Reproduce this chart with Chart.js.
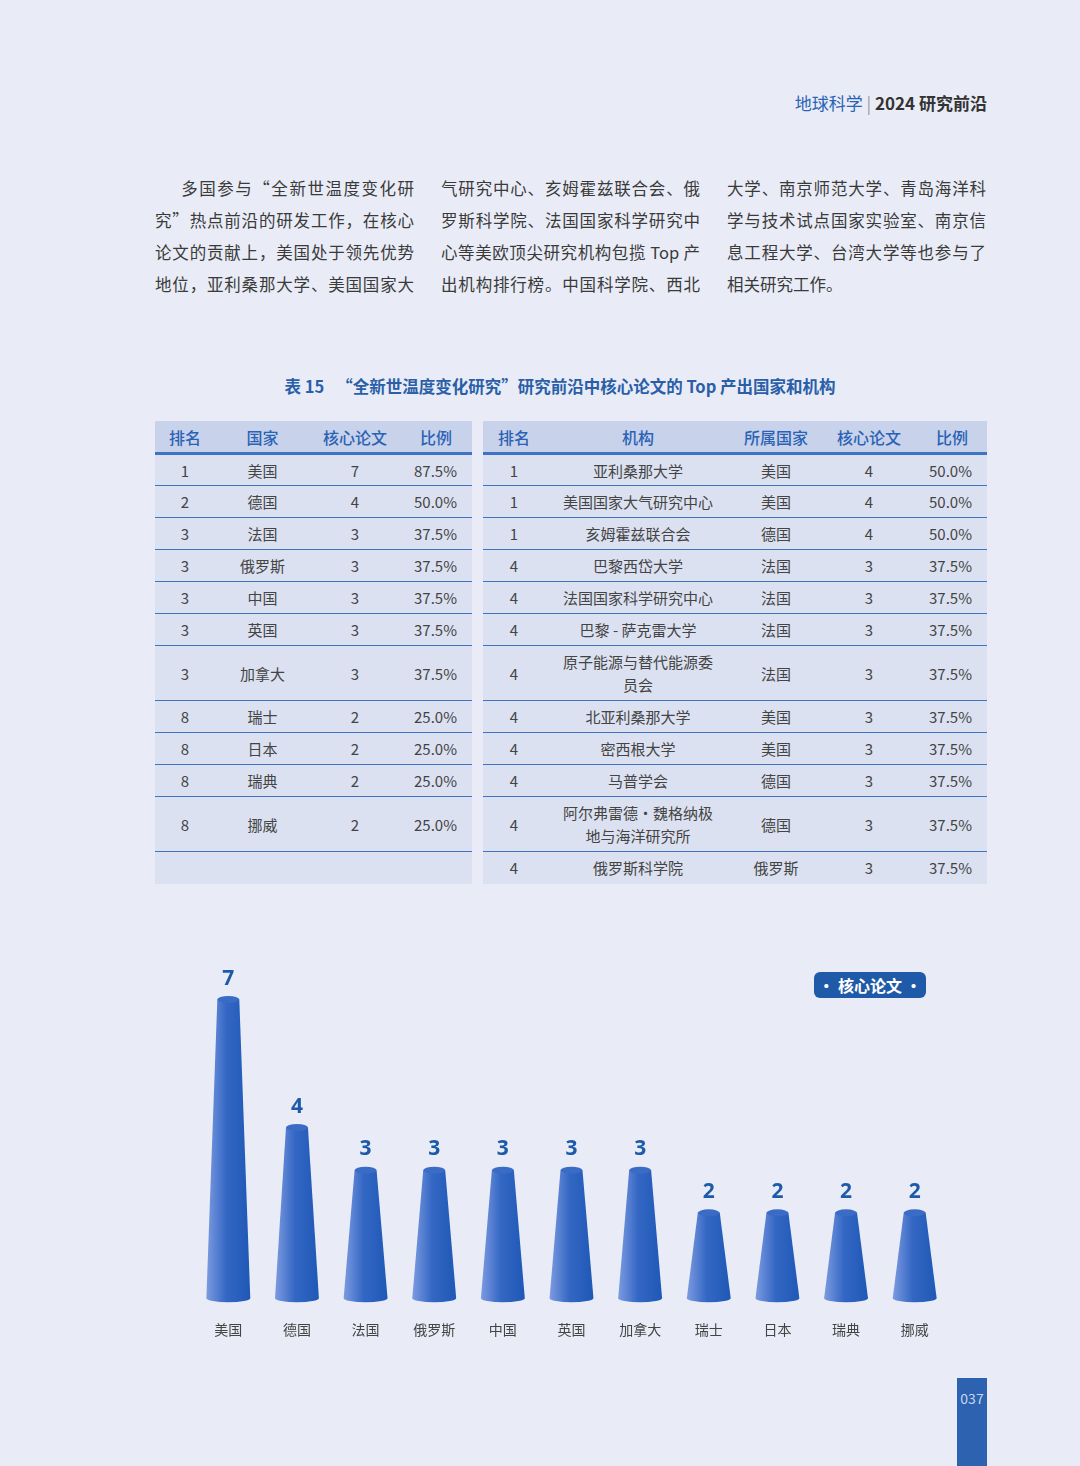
<!DOCTYPE html>
<html><head><meta charset="utf-8">
<script src="https://cdn.jsdelivr.net/npm/chart.js@4"></script>
<style>
body{margin:0;width:1080px;height:1466px;background:#e9ecf6;font-family:"Noto Sans CJK SC","Noto Sans",sans-serif;position:relative;overflow:hidden;color:#333}
.hdr{position:absolute;right:93px;top:90px;font-size:17px}
.hdr .a{color:#2a63b5}.hdr .b{color:#333;font-weight:bold}
.col{position:absolute;top:174px;width:259px;font-size:16.5px;color:#3a3a3a}
.col div{height:32px;line-height:28px;text-align:justify;text-align-last:justify;white-space:nowrap}
.col div.l{text-align-last:left}
.ttl{position:absolute;top:374px;left:20px;width:1080px;text-align:center;color:#2a5fa8;font-weight:bold;font-size:16.5px}
table{position:absolute;left:155px;top:421px;border-collapse:collapse;font-size:15px;color:#444}
td,th{text-align:center;padding:0;background:#dbe1f1;border-bottom:1.5px solid #3f74c4}
th{background:#c8d2ea;color:#2a63b5;font-weight:500;font-size:16px;height:31px;border-bottom:3px solid #3f74c4}
td.g,th.g{background:#e9ecf6;border:none;width:11px}
tr{height:32px}tr.t{height:55px}
td.m{line-height:23px}
.leg{position:absolute;left:814px;top:972px;width:112px;height:26px;border-radius:6px;background:#1f5aa8;color:#fff;font-size:16px;font-weight:bold;text-align:center;line-height:26px}
.pg{position:absolute;left:957px;top:1378px;width:30px;height:90px;background:#2c62b0;color:#c9d6f0;font-size:14px;text-align:center;padding-top:10px;box-sizing:border-box}
#wrap{position:absolute;left:194px;top:955px;width:755px;height:398px}
</style></head><body>
<div class="hdr"><span class="a">地球科学</span> <span style="color:#999">|</span> <span class="b">2024 研究前沿</span></div>
<div class="col" style="left:155px">
<div>&emsp;&ensp;多国参与“全新世温度变化研</div><div>究”热点前沿的研发工作，在核心</div><div>论文的贡献上，美国处于领先优势</div><div>地位，亚利桑那大学、美国国家大</div></div>
<div class="col" style="left:441px">
<div>气研究中心、亥姆霍兹联合会、俄</div><div>罗斯科学院、法国国家科学研究中</div><div>心等美欧顶尖研究机构包揽 Top 产</div><div>出机构排行榜。中国科学院、西北</div></div>
<div class="col" style="left:727px">
<div>大学、南京师范大学、青岛海洋科</div><div>学与技术试点国家实验室、南京信</div><div>息工程大学、台湾大学等也参与了</div><div class="l">相关研究工作。</div></div>
<div class="ttl">表 15 &ensp;“全新世温度变化研究”研究前沿中核心论文的 Top 产出国家和机构</div>
<table id="tbl"></table>
<div class="leg">· 核心论文 ·</div>
<div id="wrap"><canvas id="chart"></canvas></div>
<div class="pg">037</div>
<script>
const countries = ['美国','德国','法国','俄罗斯','中国','英国','加拿大','瑞士','日本','瑞典','挪威'];
const countryRank = [1,2,3,3,3,3,3,8,8,8,8];
const countryPapers = [7,4,3,3,3,3,3,2,2,2,2];
const countryShare = ['87.5%','50.0%','37.5%','37.5%','37.5%','37.5%','37.5%','25.0%','25.0%','25.0%','25.0%'];
const instNames = ['亚利桑那大学','美国国家大气研究中心','亥姆霍兹联合会','巴黎西岱大学','法国国家科学研究中心','巴黎 - 萨克雷大学','原子能源与替代能源委<br>员会','北亚利桑那大学','密西根大学','马普学会','阿尔弗雷德·魏格纳极<br>地与海洋研究所','俄罗斯科学院'];
const instRank = [1,1,1,4,4,4,4,4,4,4,4,4];
const instCountry = ['美国','美国','德国','法国','法国','法国','法国','美国','美国','德国','德国','俄罗斯'];
const instPapers = [4,4,4,3,3,3,3,3,3,3,3,3];
const instShare = ['50.0%','50.0%','50.0%','37.5%','37.5%','37.5%','37.5%','37.5%','37.5%','37.5%','37.5%','37.5%'];

// build table
let html = '<tr><th style="width:60px">排名</th><th style="width:95px">国家</th><th style="width:90px">核心论文</th><th style="width:72px">比例</th><th class="g"></th>' +
  '<th style="width:62px">排名</th><th style="width:186px">机构</th><th style="width:90px">所属国家</th><th style="width:96px">核心论文</th><th style="width:70px">比例</th></tr>';
for (let i = 0; i < instNames.length; i++) {
    const tall = instNames[i].includes('<br>');
    const last = i === instNames.length - 1;
    const nb = last ? ' style="border:none"' : '';
    html += '<tr class="' + (tall ? 't' : '') + '">';
    if (i < countries.length) {
        html += '<td>' + countryRank[i] + '</td><td>' + countries[i] + '</td><td>' + countryPapers[i] + '</td><td style="text-align:right;padding-right:15px">' + countryShare[i] + '</td>';
    } else {
        html += '<td style="border:none"></td><td style="border:none"></td><td style="border:none"></td><td style="border:none"></td>';
    }
    html += '<td class="g"></td><td' + nb + '>' + instRank[i] + '</td><td class="m"' + nb + '>' + instNames[i] + '</td>';
    html += '<td' + nb + '>' + instCountry[i] + '</td><td' + nb + '>' + instPapers[i] + '</td><td style="text-align:right;padding-right:15px;' + (last ? 'border:none' : '') + '">' + instShare[i] + '</td></tr>';
}
document.getElementById('tbl').innerHTML = html;

// cone bars drawn over chart.js bar geometry
const conePlugin = {
    id: 'cones',
    afterDatasetsDraw(chart) {
        const ctx = chart.ctx;
        const meta = chart.getDatasetMeta(0);
        meta.data.forEach((bar, i) => {
            const w = bar.width, x = bar.x, top = bar.y, base = bar.base;
            const rb = w / 2, rt = w / 4;
            const g = ctx.createLinearGradient(x - rb, 0, x + rb, 0);
            g.addColorStop(0, '#7d9be0');
            g.addColorStop(0.45, '#3467c4');
            g.addColorStop(1, '#1f58b6');
            ctx.save();
            ctx.fillStyle = g;
            ctx.beginPath();
            ctx.moveTo(x - rt, top);
            ctx.lineTo(x - rb, base);
            ctx.ellipse(x, base, rb, 4, 0, Math.PI, 0, true);
            ctx.lineTo(x + rt, top);
            ctx.closePath();
            ctx.fill();
            ctx.fillStyle = '#3a6cc6';
            ctx.beginPath();
            ctx.ellipse(x, top, rt, 3.5, 0, 0, Math.PI * 2);
            ctx.fill();
            ctx.fillStyle = '#1d5aa8';
            ctx.font = 'bold 21px "Noto Sans", "DejaVu Sans", sans-serif';
            ctx.textAlign = 'center';
            ctx.fillText(countryPapers[i], x, top - 15);
            ctx.restore();
        });
    }
};

new Chart(document.getElementById('chart'), {
    type: 'bar',
    data: {
        labels: countries,
        datasets: [{ data: countryPapers, backgroundColor: 'rgba(0,0,0,0)', categoryPercentage: 1, barPercentage: 0.64 }]
    },
    options: {
        responsive: true,
        maintainAspectRatio: false,
        animation: false,
        layout: { padding: { top: 30 } },
        plugins: { legend: { display: false }, tooltip: { enabled: false } },
        scales: {
            y: { display: false, min: 0, max: 7.34 },
            x: {
                grid: { display: false },
                border: { display: false },
                ticks: { color: '#444', padding: 15, font: { family: 'Noto Sans CJK SC', size: 14 } }
            }
        }
    },
    plugins: [conePlugin]
});
</script>
</body></html>
